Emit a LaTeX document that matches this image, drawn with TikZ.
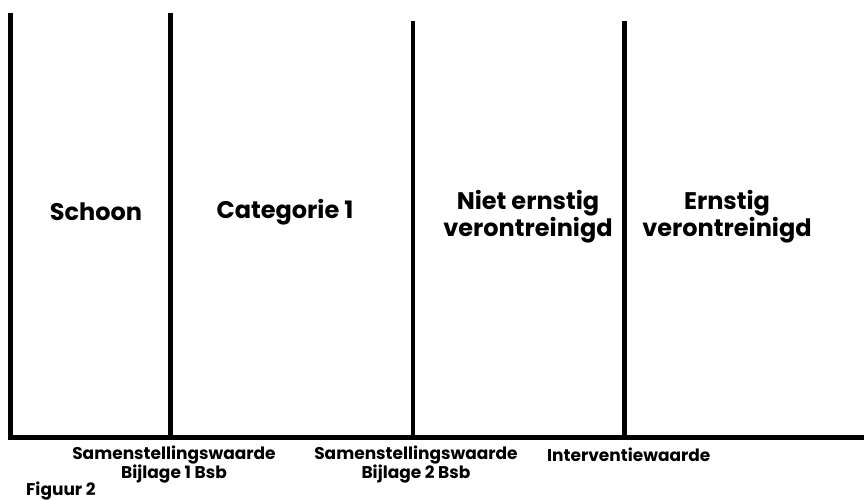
\documentclass[tikz,border=0pt]{standalone}
\usepackage{fontspec}
\setmainfont{Poppins}
\begin{document}
\begin{tikzpicture}[x=1pt,y=-1pt,
  bar/.style={line width=4.5pt},
  cell/.style={font=\bfseries\fontsize{24}{21}\selectfont, align=center, inner sep=0pt},
  lbl/.style={font=\bfseries\fontsize{17}{17.5}\selectfont, align=center, inner sep=0pt}]
\useasboundingbox (0,0) rectangle (864,500);
\coordinate (t0) at (10.5,13);
\coordinate (t1) at (170.5,13);
\coordinate (t2) at (413,21);
\coordinate (t3) at (624.5,21);
\coordinate (b0) at (10.5,437.5);
\coordinate (b1) at (170.5,437.5);
\coordinate (b2) at (413,437.5);
\coordinate (b3) at (624.5,437.5);
\coordinate (bend) at (864,437.5);
\draw[bar] (t0) -- (b0) -- (bend);
\draw[bar] (t1) -- (b1);
\draw[bar] (t2) -- (b2);
\draw[bar] (t3) -- (b3);
\node[cell] (schoon) at (96,212) {Schoon};
\node[cell] (cat1) at (285,212) {Categorie 1};
\node[cell] (niet) at (528,217) {Niet ernstig\\verontreinigd};
\node[cell] (ernstig) at (727,217) {Ernstig\\verontreinigd};
\node[lbl] (s1) at (174,464.5) {Samenstellingswaarde\\Bijlage 1 Bsb};
\node[lbl] (s2) at (416,464.5) {Samenstellingswaarde\\Bijlage 2 Bsb};
\node[lbl, anchor=west] (iw) at (547,455) {Interventiewaarde};
\node[lbl, anchor=west] (fig) at (26,491) {Figuur 2};
\end{tikzpicture}
\end{document}
